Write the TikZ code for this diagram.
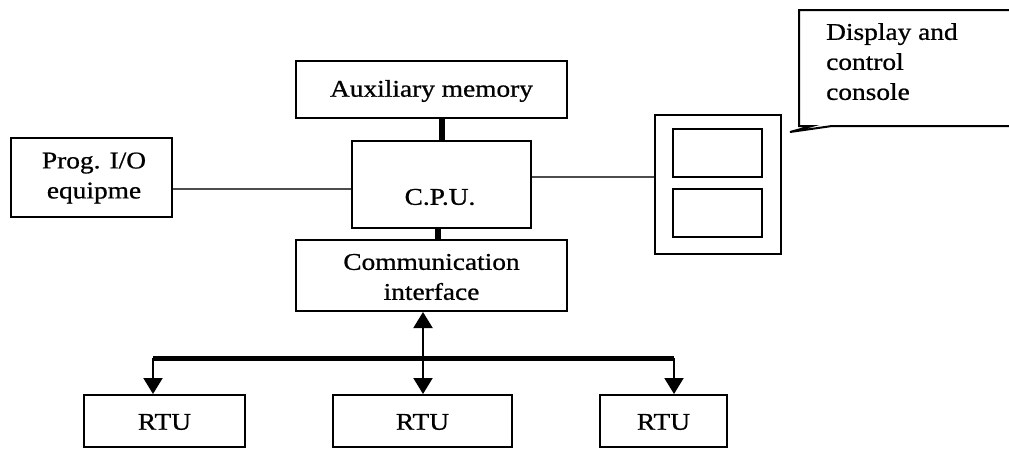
\documentclass[tikz,border=0pt]{standalone}
\usepackage{fontspec}
\setmainfont{Liberation Serif}[FakeStretch=1.14, FakeBold=0.8]
\usetikzlibrary{arrows.meta}

\tikzset{
  box/.style={draw, line width=2pt, rectangle, inner sep=0pt, fill=white},
  lbl/.style={font=\fontsize{24}{30}\selectfont, align=center, inner sep=0pt},
  thin link/.style={draw=black!70, line width=2pt},
  heavy link/.style={line width=6pt},
  bus/.style={line width=5pt},
  tip/.style={line width=2pt, -{Triangle[width=19pt,length=16pt]}},
}

\begin{document}
\begin{tikzpicture}[x=1pt, y=-1pt]
  \useasboundingbox (0,0) rectangle (1009,448);

  % main blocks
  \node[box, minimum width=271pt, minimum height=57pt] (aux) at (431.5,89.5) {};
  \node[lbl] (auxl) at (431.5,91) {Auxiliary memory};

  \node[box, minimum width=179pt, minimum height=87pt] (cpu) at (441.5,184.5) {};
  \node[lbl] (cpul) at (440,197) {C.P.U.};

  \node[box, minimum width=271pt, minimum height=71pt] (comm) at (431.5,275.5) {};
  \node[lbl] (comml) at (431.5,277) {Communication\\interface};

  \node[box, minimum width=161pt, minimum height=79pt] (prog) at (91.5,177.5) {};
  \node[lbl] (progl) at (94,178) {Prog. I/O\\equipme};

  % display console with its two screens
  \node[box, minimum width=126pt, minimum height=139pt] (disp) at (718,184.5) {};
  \node[box, minimum width=89pt, minimum height=48pt] (scr1) at (717.5,153) {};
  \node[box, minimum width=89pt, minimum height=48pt] (scr2) at (717.5,213) {};

  % remote terminal units
  \node[box, minimum width=161pt, minimum height=52pt] (rtu1) at (164.5,421) {};
  \node[lbl] (rtu1l) at (164.5,422) {RTU};
  \node[box, minimum width=179pt, minimum height=52pt] (rtu2) at (422.5,421) {};
  \node[lbl] (rtu2l) at (422.5,422) {RTU};
  \node[box, minimum width=127pt, minimum height=52pt] (rtu3) at (663.5,421) {};
  \node[lbl] (rtu3l) at (663.5,422) {RTU};

  % callout
  \coordinate (c1) at (799,10);
  \coordinate (c2) at (1015,10);
  \coordinate (c3) at (1015,126);
  \coordinate (c4) at (832,126);
  \coordinate (c5) at (790,132);
  \coordinate (c6) at (812,126);
  \coordinate (c7) at (799,126);
  \draw[line width=2pt, line join=miter, fill=white] (c1) -- (c2) -- (c3) -- (c4) -- (c5) -- (c6) -- (c7) -- cycle;
  \node[lbl, align=left, anchor=north west] (cons) at (826,23) {Display and\\control\\console};

  % helper coordinates for connector positions
  \coordinate (xa) at (442,0);
  \coordinate (xb) at (438,0);
  \coordinate (yp) at (0,189);
  \coordinate (yd) at (0,177);
  \coordinate (b1) at (153,358);
  \coordinate (b2) at (423,358);
  \coordinate (b3) at (674,358);

  % CPU links
  \draw[heavy link] (aux.south -| xa) -- (cpu.north -| xa);
  \draw[heavy link] (cpu.south -| xb) -- (comm.north -| xb);
  \draw[thin link] (prog.east |- yp) -- (cpu.west |- yp);
  \draw[thin link] (cpu.east |- yd) -- (disp.west |- yd);

  % RTU bus
  \draw[bus] (b1) -- (b3);
  \draw[tip] (b2) -- (b2 |- comm.south);
  \draw[tip] (b1) -- (b1 |- rtu1.north);
  \draw[tip] (b2) -- (b2 |- rtu2.north);
  \draw[tip] (b3) -- (b3 |- rtu3.north);
\end{tikzpicture}
\end{document}
